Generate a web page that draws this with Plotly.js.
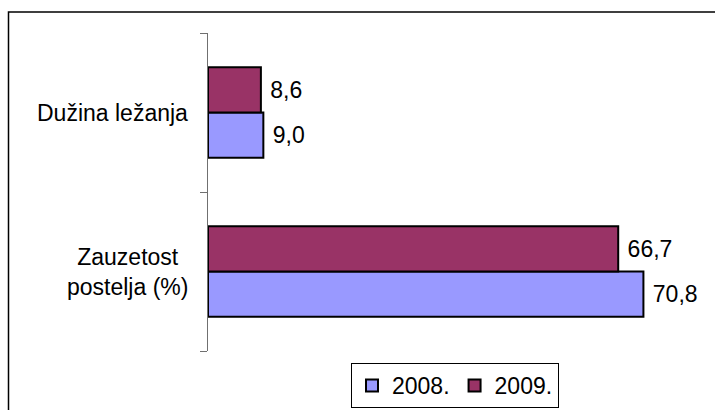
<!DOCTYPE html>
<html>
<head>
<meta charset="utf-8">
<script src="https://cdn.plot.ly/plotly-3.0.1.min.js"></script>
<style>html,body{margin:0;padding:0;background:#fff;}#chart{width:715px;height:410px;}</style>
</head>
<body>
<div id="chart"></div>
<script>
const categories = ["Zauzetost<br>postelja (%)", "Dužina ležanja"];
const series2008 = [70.8, 9.0];
const series2009 = [66.7, 8.6];
const seriesNames = ["2008.", "2009."];

const W = 492, H = 318, L = 208, T = 33;
const px2x = p => (p - L) / W;
const py2y = p => (T + H - p) / H;

const font = {family: "Liberation Sans, Arial, sans-serif", size: 23, color: "#000"};

const traces = [
  {type: "bar", orientation: "h", name: seriesNames[0], y: categories, x: series2008,
   marker: {color: "#9999FF", line: {color: "#000", width: 2}},
   texttemplate: "\u00a0%{x:.1f}", textposition: "outside", cliponaxis: false,
   textfont: font, hoverinfo: "skip"},
  {type: "bar", orientation: "h", name: seriesNames[1], y: categories, x: series2009,
   marker: {color: "#993366", line: {color: "#000", width: 2}},
   texttemplate: "\u00a0%{x:.1f}", textposition: "outside", cliponaxis: false,
   textfont: font, hoverinfo: "skip"}
];

const annotations = categories.map(c => ({
  xref: "paper", yref: "y", x: px2x(190), y: c, xanchor: "right", yanchor: "middle",
  text: c, align: "center", showarrow: false, font: font
}));

const layout = {
  width: 715, height: 410,
  margin: {l: L, r: 715 - L - W, t: T, b: 410 - T - H, pad: 0, autoexpand: false},
  paper_bgcolor: "#fff", plot_bgcolor: "#fff",
  separators: ",.",
  font: font,
  barmode: "group", bargap: 0.43, bargroupgap: 0,
  xaxis: {range: [0, 80], visible: false, showgrid: false, zeroline: false},
  yaxis: {type: "category", categoryorder: "array", categoryarray: categories,
          showline: true, linecolor: "#707070", linewidth: 1,
          ticks: "outside", ticklen: 7, tickcolor: "#707070", tickwidth: 1,
          tickson: "boundaries", showgrid: false, zeroline: false,
          showticklabels: false},
  annotations: annotations,
  showlegend: true,
  legend: {orientation: "h", x: px2x(455), xanchor: "center", y: py2y(408), yanchor: "bottom",
           bgcolor: "#fff", bordercolor: "#000", borderwidth: 1, font: font,
           traceorder: "normal", itemwidth: 30, tracegroupgap: 0},
  shapes: [
    {type: "path", xref: "paper", yref: "paper",
     path: `M ${px2x(8.5)} ${py2y(412)} L ${px2x(8.5)} ${py2y(12)} L ${px2x(716)} ${py2y(12)}`,
     line: {color: "#000", width: 1.5}}
  ]
};

Plotly.newPlot("chart", traces, layout, {staticPlot: true, displayModeBar: false});
</script>
</body>
</html>
